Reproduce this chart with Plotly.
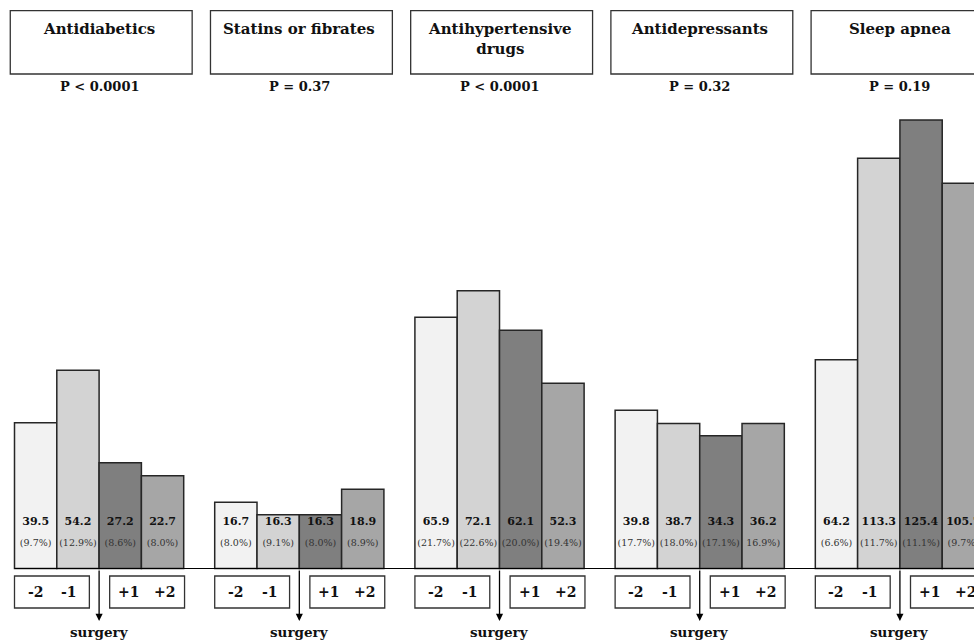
import plotly.graph_objects as go

# ---------------- data ----------------
categories = ["Antidiabetics", "Statins or fibrates", "Antihypertensive<br>drugs",
              "Antidepressants", "Sleep apnea"]
p_values = ["P < 0.0001", "P = 0.37", "P < 0.0001", "P = 0.32", "P = 0.19"]
periods = ["-2", "-1", "+1", "+2"]

# rates shown in the labels (per period: -2, -1, +1, +2)
rate_m2 = [39.5, 16.7, 65.9, 39.8, 64.2]
rate_m1 = [54.2, 16.3, 72.1, 38.7, 113.3]
rate_p1 = [27.2, 16.3, 62.1, 34.3, 125.4]
rate_p2 = [22.7, 18.9, 52.3, 36.2, 105.7]

pct_m2 = ["(9.7%)", "(8.0%)", "(21.7%)", "(17.7%)", "(6.6%)"]
pct_m1 = ["(12.9%)", "(9.1%)", "(22.6%)", "(18.0%)", "(11.7%)"]
pct_p1 = ["(8.6%)", "(8.0%)", "(20.0%)", "(17.1%)", "(11.1%)"]
pct_p2 = ["(8.0%)", "(8.9%)", "(19.4%)", "16.9%)", "(9.7%)"]

# bar heights as drawn in the picture (same units as the rates)
height_m2 = [39.4, 17.9, 67.9, 42.8, 56.4]
height_m1 = [53.6, 14.5, 75.1, 39.2, 110.9]
height_p1 = [28.6, 14.5, 64.4, 35.9, 121.2]
height_p2 = [25.1, 21.4, 50.1, 39.2, 104.1]

# ---------------- layout constants ----------------
FONT = "DejaVu Serif"
W, H = 974, 640
PX_X = 42.3          # px per bar unit
LEFT_PX = 14.5       # left edge of first bar
PITCH = 4.733        # panel pitch in bar units
PX_Y = 3.7           # px per rate unit
BASE_PX = 568.5      # baseline, px from top

x_start = -0.5 - LEFT_PX / PX_X
x_end = x_start + W / PX_X
y_min = -(H - BASE_PX) / PX_Y
y_max = BASE_PX / PX_Y


def py(px):
    return 1 - px / H


def dy(px):
    return (BASE_PX - px) / PX_Y


colors = ["#f2f2f2", "#d3d3d3", "#7f7f7f", "#a6a6a6"]
rates = [rate_m2, rate_m1, rate_p1, rate_p2]
pcts = [pct_m2, pct_m1, pct_p1, pct_p2]
heights = [height_m2, height_m1, height_p1, height_p2]

fig = go.Figure()
n = len(categories)
for j in range(4):
    xs = [p * PITCH + j for p in range(n)]
    fig.add_trace(go.Bar(
        x=xs, y=heights[j], width=1, marker=dict(color=colors[j],
        line=dict(color="#262626", width=1.5)), showlegend=False,
        hoverinfo="skip"))
    fig.add_trace(go.Scatter(
        x=xs, y=[dy(522.5)] * n, mode="text",
        text=[f"<b>{v:.1f}</b>" for v in rates[j]],
        textfont=dict(family=FONT, size=11, color="#111"),
        showlegend=False, hoverinfo="skip"))
    fig.add_trace(go.Scatter(
        x=xs, y=[dy(544)] * n, mode="text",
        text=pcts[j], textfont=dict(family=FONT, size=9.5, color="#333"),
        showlegend=False, hoverinfo="skip"))

shapes = []
annotations = []
# baseline
shapes.append(dict(type="line", xref="x", yref="y", x0=-0.5, x1=x_end, y0=0, y1=0,
                   line=dict(color="black", width=1.2)))
for p in range(n):
    c = p * PITCH
    # title box
    shapes.append(dict(type="rect", xref="x", yref="paper", x0=c - 0.6, x1=c + 3.7,
                       y0=py(74), y1=py(10.7), line=dict(color="#333", width=1.3),
                       fillcolor="white", layer="below"))
    annotations.append(dict(x=c + 1.5, y=py(18), xref="x", yref="paper", text=f"<b>{categories[p]}</b>",
                            showarrow=False, yanchor="top", xanchor="center",
                            font=dict(family=FONT, size=15, color="#111")))
    annotations.append(dict(x=c + 1.5, y=py(86), xref="x", yref="paper", text=f"<b>{p_values[p]}</b>",
                            showarrow=False, yanchor="middle",
                            font=dict(family=FONT, size=13, color="#111")))
    # period boxes
    shapes.append(dict(type="rect", xref="x", yref="paper", x0=c - 0.5, x1=c + 1.27,
                       y0=py(608), y1=py(576), line=dict(color="#333", width=1.3)))
    shapes.append(dict(type="rect", xref="x", yref="paper", x0=c + 1.75, x1=c + 3.52,
                       y0=py(608), y1=py(576), line=dict(color="#333", width=1.3)))
    for lab, off in zip(periods, [0.0, 0.8, 2.2, 3.05]):
        annotations.append(dict(x=c + off, y=py(592), xref="x", yref="paper", text=f"<b>{lab}</b>",
                                showarrow=False, yanchor="middle",
                                font=dict(family=FONT, size=14, color="#111")))
    # arrow
    annotations.append(dict(x=c + 1.5, y=py(621), xref="x", yref="paper", text="",
                            showarrow=True, arrowhead=2, arrowsize=1.1, arrowwidth=1.3,
                            arrowcolor="black", ax=0, ay=-52))
    annotations.append(dict(x=c + 1.5, y=py(632), xref="x", yref="paper", text="<b>surgery</b>",
                            showarrow=False, yanchor="middle",
                            font=dict(family=FONT, size=13.5, color="#111")))

fig.update_layout(
    width=W, height=H, margin=dict(l=0, r=0, t=0, b=0),
    paper_bgcolor="white", plot_bgcolor="white", barmode="overlay",
    xaxis=dict(range=[x_start, x_end], visible=False, fixedrange=True),
    yaxis=dict(range=[y_min, y_max], visible=False, fixedrange=True),
    shapes=shapes, annotations=annotations,
)
fig.write_html("out.html", config={"displayModeBar": False},
               post_script="document.body.style.margin='0';"
                           "document.documentElement.style.overflow='hidden';"
                           "document.body.style.overflow='hidden';")
